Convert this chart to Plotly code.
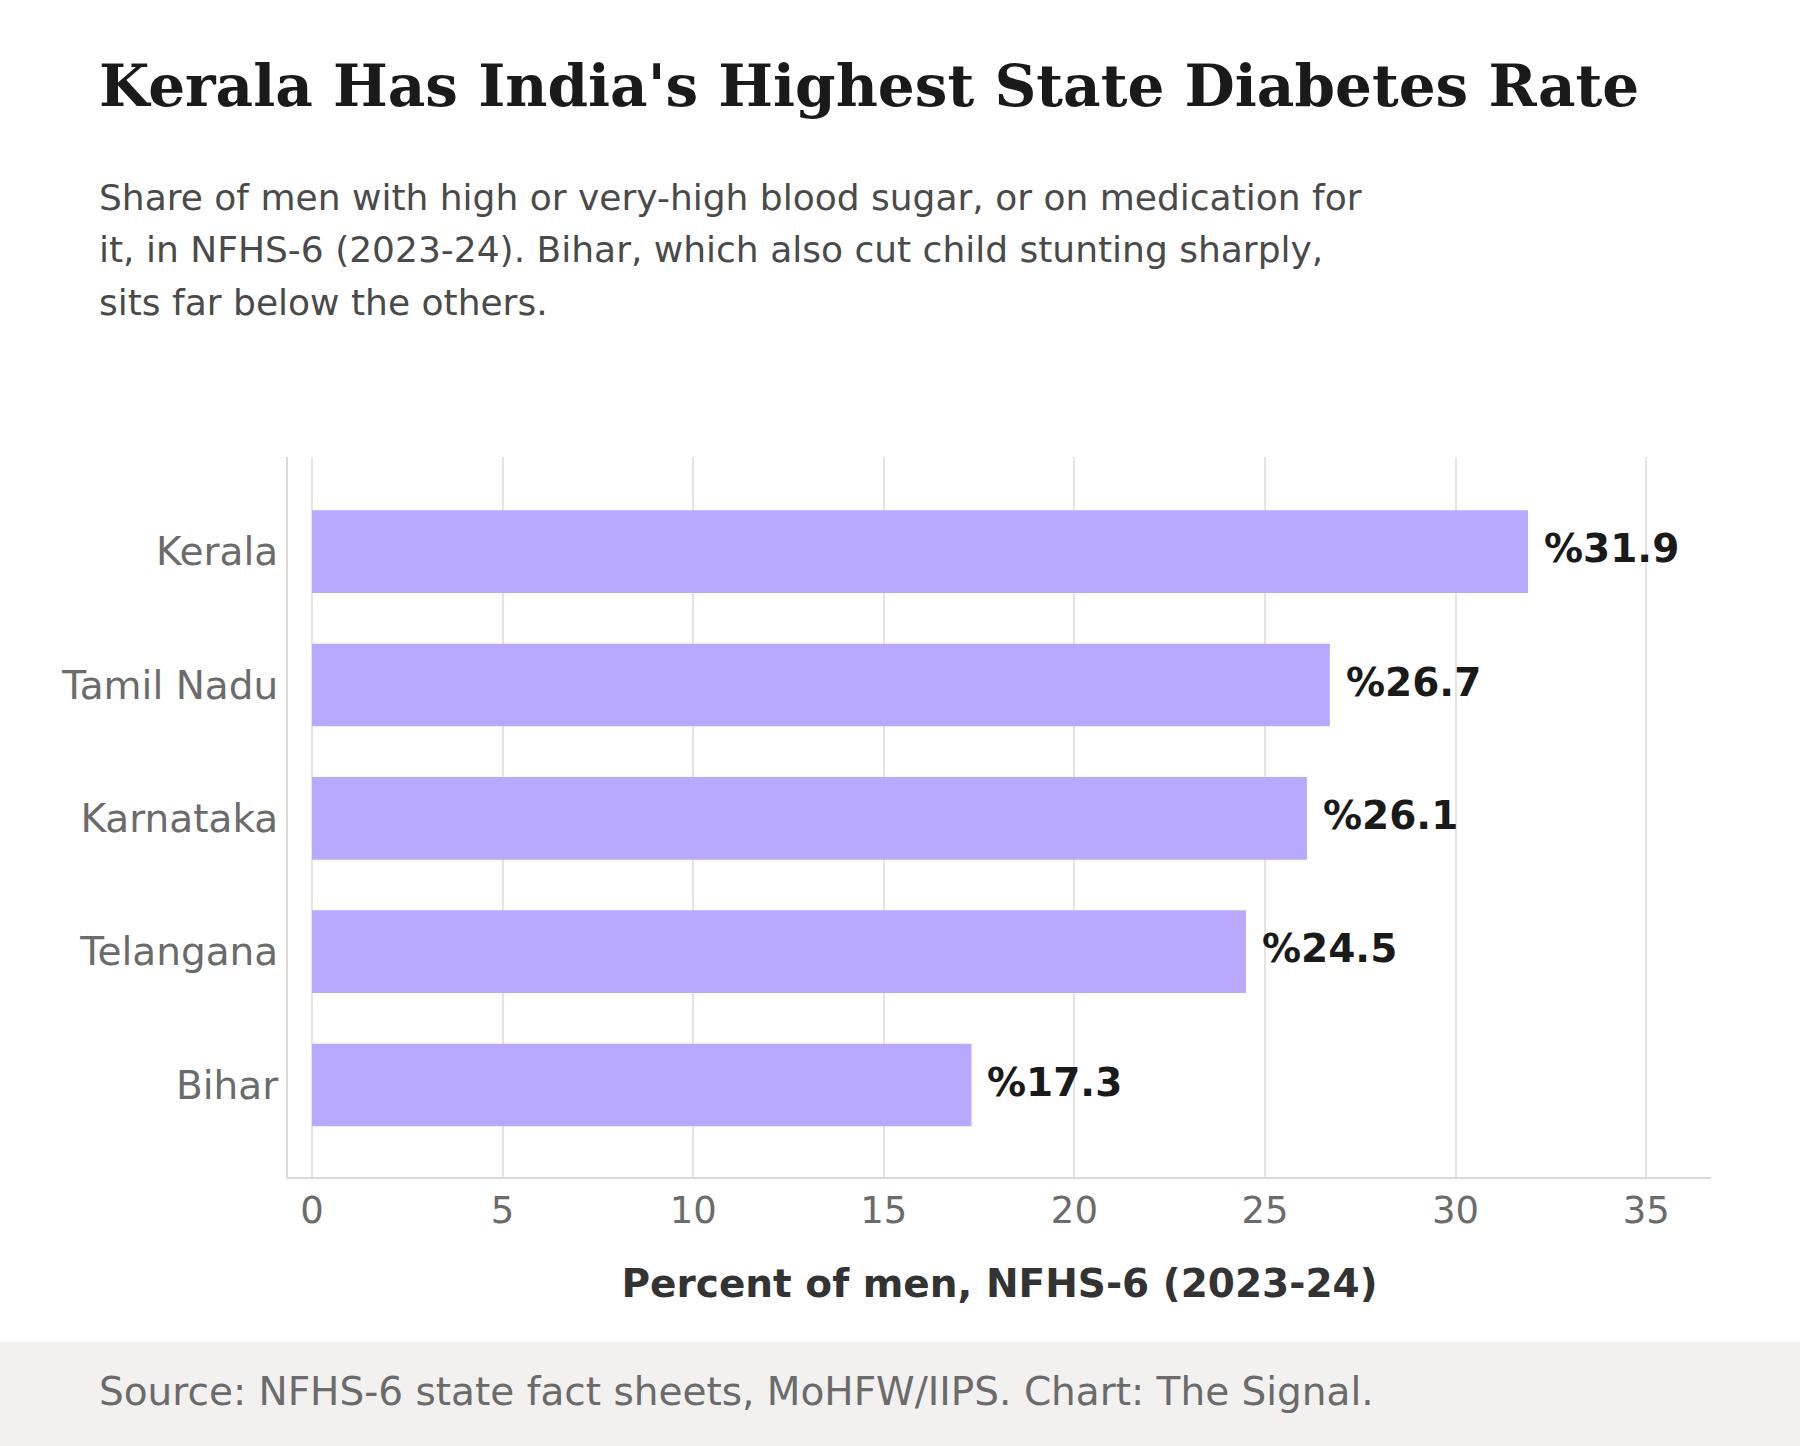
import plotly.graph_objects as go

states = ["Kerala", "Tamil Nadu", "Karnataka", "Telangana", "Bihar"]
values = [31.9, 26.7, 26.1, 24.5, 17.3]
tick_vals = [0, 5, 10, 15, 20, 25, 30, 35]
title_text = "Kerala Has India's Highest State Diabetes Rate"
subtitle_lines = [
    "Share of men with high or very-high blood sugar, or on medication for",
    "it, in NFHS-6 (2023-24). Bihar, which also cut child stunting sharply,",
    "sits far below the others.",
]
source_text = "Source: NFHS-6 state fact sheets, MoHFW/IIPS. Chart: The Signal."
x_title = "Percent of men, NFHS-6 (2023-24)"

W, H = 1800, 1446
L, R, T, B = 288, 1711, 457, 1177


def px(x):
    return (x - L) / (R - L)


def py(y):
    return (B - y) / (B - T)


fig = go.Figure()
fig.add_trace(go.Bar(
    x=values, y=states, orientation="h",
    marker=dict(color="#b8a9fe", line=dict(width=0)),
    width=0.62, hoverinfo="skip",
))

annotations = []
for s, v in zip(states, values):
    annotations.append(dict(
        x=v, y=s, xref="x", yref="y", text=f"%{v:.1f}", showarrow=False,
        xanchor="left", yanchor="middle", xshift=14, yshift=3,
        font=dict(family="DejaVu Sans", size=39, color="#1a1a1a", weight="bold"),
    ))

annotations.append(dict(
    x=px(97), y=py(86), xref="paper", yref="paper", text=f"<b>{title_text}</b>",
    showarrow=False, xanchor="left", yanchor="middle",
    font=dict(family="DejaVu Serif", size=58, color="#1a1a1a"),
))
sub_y = [198, 250, 302]
for line, yy in zip(subtitle_lines, sub_y):
    annotations.append(dict(
        x=px(97), y=py(yy), xref="paper", yref="paper", text=line,
        showarrow=False, xanchor="left", yanchor="middle",
        font=dict(family="DejaVu Sans", size=36, color="#4a4a4a"),
    ))
annotations.append(dict(
    x=px(97), y=py(1391), xref="paper", yref="paper", text=source_text,
    showarrow=False, xanchor="left", yanchor="middle",
    font=dict(family="DejaVu Sans", size=39, color="#6b6b6b"),
))

fig.update_layout(
    width=W, height=H,
    margin=dict(l=L, r=W - R, t=T, b=H - B, pad=0),
    paper_bgcolor="white", plot_bgcolor="white",
    showlegend=False,
    annotations=annotations,
    shapes=[dict(
        type="rect", xref="paper", yref="paper",
        x0=px(-5), x1=px(W + 5), y0=py(H + 5), y1=py(1342),
        fillcolor="#f2f1ef", line=dict(width=0), layer="below",
    )],
    font=dict(family="DejaVu Sans"),
)
fig.update_xaxes(
    range=[-0.63, 36.7], tickvals=tick_vals, ticktext=[str(t) for t in tick_vals],
    showgrid=True, gridcolor="#e6e4e0", gridwidth=2,
    showline=True, linecolor="#dcdad5", linewidth=2,
    zeroline=False, ticks="",
    tickfont=dict(size=37, color="#6b6b6b"),
    title=dict(text=f"<b>{x_title}</b>", font=dict(size=39, color="#333333"), standoff=38),
)
fig.update_yaxes(
    categoryorder="array", categoryarray=states, range=[4.69, -0.71],
    showgrid=False, showline=True, linecolor="#dcdad5", linewidth=2,
    zeroline=False, ticks="",
    tickfont=dict(size=39, color="#6b6b6b"),
)

fig.write_html("out.html")
